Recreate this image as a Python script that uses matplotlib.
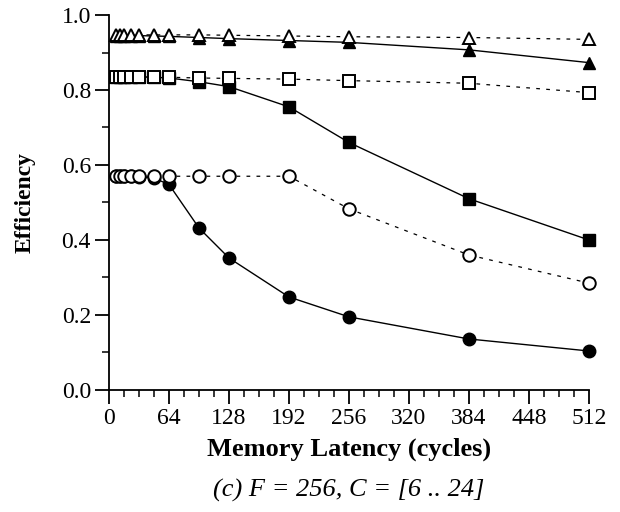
import matplotlib.pyplot as plt
import numpy as np
from matplotlib.ticker import MultipleLocator

plt.rcParams['font.family'] = ['Liberation Serif', 'DejaVu Serif']

latency = [8, 12, 16, 24, 32, 48, 64, 96, 128, 192, 256, 384, 512]

# filled markers, solid line
tri_fill = [0.945, 0.945, 0.945, 0.945, 0.945, 0.944, 0.943, 0.940, 0.937, 0.932, 0.927, 0.907, 0.873]
sq_fill = [0.835, 0.835, 0.835, 0.835, 0.835, 0.834, 0.832, 0.822, 0.809, 0.755, 0.660, 0.510, 0.400]
circ_fill = [0.570, 0.570, 0.570, 0.570, 0.569, 0.565, 0.548, 0.432, 0.352, 0.248, 0.195, 0.136, 0.104]

# open markers, dotted line
tri_open = [0.947, 0.947, 0.947, 0.947, 0.947, 0.947, 0.947, 0.947, 0.946, 0.944, 0.942, 0.940, 0.935]
sq_open = [0.835, 0.835, 0.835, 0.835, 0.835, 0.835, 0.834, 0.832, 0.831, 0.829, 0.825, 0.818, 0.793]
circ_open = [0.570, 0.570, 0.570, 0.570, 0.570, 0.570, 0.570, 0.570, 0.570, 0.570, 0.483, 0.360, 0.285]

fig = plt.figure(figsize=(6.2, 5.12), dpi=100)
ax = fig.add_axes([0.1758, 0.2383, 0.7742, 0.7324])

x = np.array(latency)
for ys, m in [(tri_fill, '^'), (sq_fill, 's'), (circ_fill, 'o')]:
    ax.plot(x, ys, '-', color='black', lw=1.0, marker=m, ms=9,
            mfc='black', mec='black', clip_on=False, zorder=3)
for ys, m in [(tri_open, '^'), (sq_open, 's'), (circ_open, 'o')]:
    ax.plot(x, ys, color='black', lw=0.9, ls=(0, (3, 5)), marker=m, ms=9,
            mfc='white', mec='black', mew=1.4, clip_on=False, zorder=4)

ax.set_xlim(0, 512)
ax.set_ylim(0, 1.0)
ax.set_xticks(range(0, 513, 64))
ax.xaxis.set_minor_locator(MultipleLocator(16))
ax.set_yticks(np.arange(0, 1.01, 0.2))
ax.yaxis.set_minor_locator(MultipleLocator(0.1))
ax.set_yticklabels([f"{v:.1f}" for v in np.arange(0, 1.01, 0.2)])

for s in ['top', 'right']:
    ax.spines[s].set_visible(False)
for s in ['left', 'bottom']:
    ax.spines[s].set_linewidth(1.3)

ax.tick_params(which='major', direction='out', length=10, width=1.3, labelsize=17, pad=3)
ax.tick_params(which='minor', direction='out', length=5, width=1.1)

ax.set_xlabel('Memory Latency (cycles)', fontsize=19, fontweight='bold', labelpad=6)
ax.set_ylabel('Efficiency', fontsize=17, fontweight='bold')
ax.yaxis.set_label_coords(-0.152, 0.5)

fig.text(0.5629, 0.043, '(c) F = 256, C = [6 .. 24]', ha='center', va='center',
         fontsize=19, fontstyle='italic')

fig.savefig('out.png', dpi=100)
